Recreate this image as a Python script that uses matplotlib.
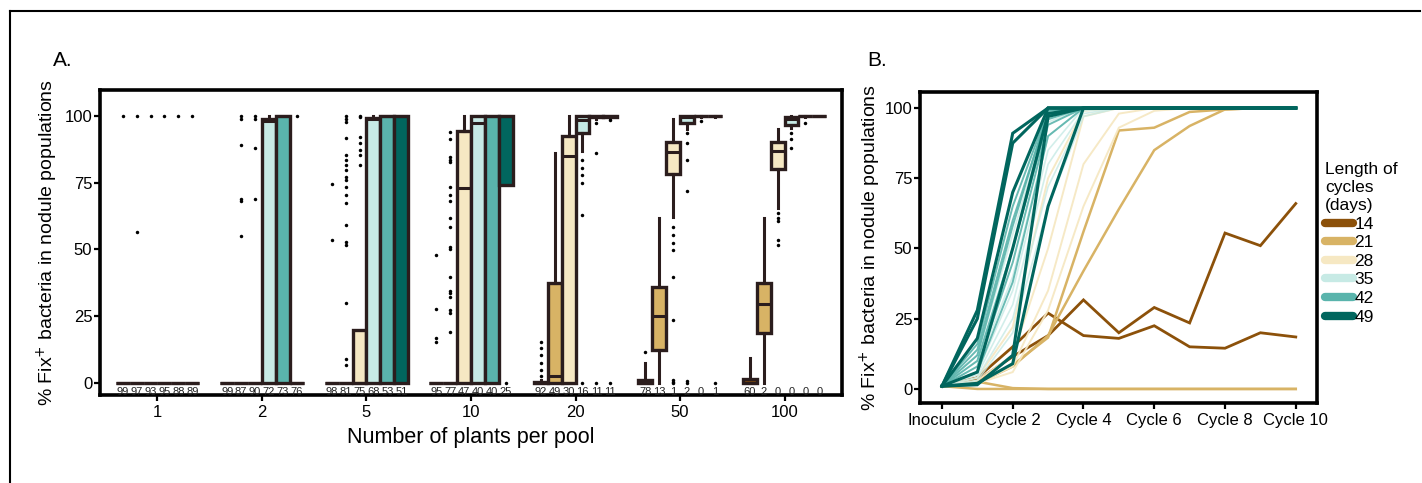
import matplotlib
matplotlib.use('Agg')
import matplotlib.pyplot as plt
from matplotlib.lines import Line2D

plt.rcParams['font.family'] = ['Liberation Sans', 'DejaVu Sans']

# ---------------- data ----------------
groups = ['1', '2', '5', '10', '20', '50', '100']
cycle_lengths = ['14', '21', '28', '35', '42', '49']
colors = ['#8c510a', '#d8b365', '#f6e8c3', '#c7eae5', '#5ab4ac', '#01665e']

counts = [
    [99, 97, 93, 95, 88, 89],
    [99, 87, 90, 72, 73, 76],
    [98, 81, 75, 68, 53, 51],
    [95, 77, 47, 40, 40, 25],
    [92, 49, 30, 16, 11, 11],
    [78, 13, 1, 2, 0, 1],
    [60, 2, 0, 0, 0, 0],
]
box_q1 = [
    [0, 0, 0, 0, 0, 0],
    [0, 0, 0, 0, 0, 0],
    [0, 0, 0, 0, 0, 0],
    [0, 0, 0, 0, 0, 74],
    [0, 0, 0, 93.6, 99.5, 99.5],
    [0, 12.4, 78.3, 97.4, 99.8, 99.8],
    [0, 18.6, 80, 96.5, 99.8, 100],
]
box_med = [
    [0, 0, 0, 0, 0, 0],
    [0, 0, 0, 98, 100, 0],
    [0, 0, 0, 99, 100, 100],
    [0, 0, 73, 97.5, 100, 100],
    [0, 2.5, 85, 98.5, 100, 100],
    [0, 25, 86.3, 99.5, 100, 100],
    [0, 29.6, 86.7, 99, 100, 100],
]
box_q3 = [
    [0, 0, 0, 0, 0, 0],
    [0, 0, 0, 99, 100, 0],
    [0, 0, 20, 99.4, 100, 100],
    [0, 0, 94.5, 100, 100, 100],
    [0.5, 37.3, 92.5, 100, 100, 100],
    [1, 35.8, 90.4, 100, 100, 100],
    [1.5, 37.3, 90.4, 99.5, 100, 100],
]
whisk_lo = [
    [0, 0, 0, 0, 0, 0],
    [0, 0, 0, 0, 0, 0],
    [0, 0, 0, 0, 0, 0],
    [0, 0, 0, 0, 0, 74],
    [0, 0, 0, 87, 99, 99],
    [0, 0, 62.3, 95, 99.5, 99.5],
    [0, 0, 65.4, 95.5, 99.5, 100],
]
whisk_hi = [
    [0, 0, 0, 0, 0, 0],
    [0, 0, 0, 100, 100, 0],
    [0, 0, 20, 100, 100, 100],
    [0, 0, 100, 100, 100, 100],
    [1, 86, 100, 100, 100, 100],
    [7.5, 61.7, 98.8, 100, 100, 100],
    [9.2, 61.7, 95, 100, 100, 100],
]
fliers = [
    [[100], [100, 56.7], [100], [100], [100], [100]],
    [[], [100, 99, 89, 69, 68, 55], [100, 99, 88, 69], [], [], [100]],
    [[74.4, 53.5],
     [100, 98.8, 97.9, 91.6, 85.4, 83.5, 81.6, 79.8, 77.3, 76, 73.5, 70.4,
      67.3, 59.2, 52.9, 51.7, 30, 8.9, 6.7],
     [100, 99.5, 92.2, 89.7, 87.3, 85.4, 81.6], [], [], []],
    [[48, 27.6, 16.7, 15.5],
     [94.1, 91.2, 84.5, 83.5, 82.9, 73.5, 70.4, 68.3, 61.7, 58.5, 51, 50.1,
      39.8, 34.6, 33.6, 32.1, 27.3, 26.1, 19.2],
     [], [], [], [0]],
    [[15.5, 13, 10.5, 7.6, 4.9, 2.5], [], [], [83.5, 80.5, 78, 75, 63, 0],
     [97.5, 86, 0], [98.5, 0]],
    [[11.7], [], [58.5, 55.4, 52.5, 49.7, 39.7, 23.7, 1.3, 0.5, 0],
     [93.6, 90, 83.5, 71.7, 0.8, 0], [98], [0]],
    [[], [], [63.5, 61.7, 60.5, 53.6, 51.7], [93.6, 91.5, 88], [97.5], []],
]

cycle_x = [0, 1, 2, 3, 4, 5, 6, 7, 8, 9, 10]
cycle_ticks = [0, 2, 4, 6, 8, 10]
cycle_ticklabels = ['Inoculum', 'Cycle 2', 'Cycle 4', 'Cycle 6', 'Cycle 8', 'Cycle 10']

lines_14 = [
    [1, 4, 15, 27, 19, 18, 22.5, 15, 14.5, 20, 18.5],
    [1, 3, 11.5, 19, 31.7, 20, 29, 23.5, 55.5, 51, 66],
]
lines_21 = [
    [1, 2.6, 0.3, 0, 0, 0, 0, 0, 0, 0, 0],
    [1, 0, 0, 0, 0, 0, 0, 0, 0, 0, 0],
    [1, 2, 8.5, 18.3, 56, 92, 93, 98.6, 99.5, 100, 100],
    [1, 2, 8, 19, 42, 64, 85, 93.6, 99.5, 100, 100],
]
lines_28 = [
    [1, 3, 12, 50, 97, 100, 100, 100, 100, 100, 100],
    [1, 2, 8, 35, 80, 98, 100, 100, 100, 100, 100],
    [1, 4, 22, 75, 99, 100, 100, 100, 100, 100, 100],
    [1, 2, 6, 28, 65, 93, 99, 100, 100, 100, 100],
]
lines_35 = [
    [1, 8, 40, 90, 100, 100, 100, 100, 100, 100, 100],
    [1, 5, 30, 80, 99, 100, 100, 100, 100, 100, 100],
    [1, 10, 50, 95, 100, 100, 100, 100, 100, 100, 100],
    [1, 3, 20, 65, 97, 100, 100, 100, 100, 100, 100],
    [1, 6, 35, 85, 100, 100, 100, 100, 100, 100, 100],
    [1, 12, 55, 97, 100, 100, 100, 100, 100, 100, 100],
    [1, 4, 25, 72, 98, 100, 100, 100, 100, 100, 100],
]
lines_42 = [
    [1, 14, 60, 98, 100, 100, 100, 100, 100, 100, 100],
    [1, 10, 50, 96, 100, 100, 100, 100, 100, 100, 100],
    [1, 8, 45, 94, 100, 100, 100, 100, 100, 100, 100],
    [1, 12, 58, 99, 100, 100, 100, 100, 100, 100, 100],
    [1, 6, 38, 90, 100, 100, 100, 100, 100, 100, 100],
    [1, 16, 65, 99, 100, 100, 100, 100, 100, 100, 100],
]
lines_49 = [
    [1, 28, 91, 100, 100, 100, 100, 100, 100, 100, 100],
    [1, 25, 87.5, 100, 100, 100, 100, 100, 100, 100, 100],
    [1, 18, 70, 100, 100, 100, 100, 100, 100, 100, 100],
    [1, 6, 50, 98, 100, 100, 100, 100, 100, 100, 100],
    [1, 2, 9, 65, 100, 100, 100, 100, 100, 100, 100],
    [1, 1.5, 12, 97, 100, 100, 100, 100, 100, 100, 100],
]
all_lines = [lines_14, lines_21, lines_28, lines_35, lines_42, lines_49]
line_widths = [2.0, 1.8, 1.4, 1.2, 1.4, 2.2]
line_alphas = [1.0, 1.0, 0.95, 0.8, 0.9, 1.0]

# ---------------- figure ----------------
W, H = 1422, 483
fig = plt.figure(figsize=(W / 100, H / 100), dpi=100)

edge = '#2b1d1d'
ylab = '% Fix$^{+}$ bacteria in nodule populations'

# ---- Panel A ----
axA = fig.add_axes([100 / W, 88 / H, 742 / W, 305 / H])
dodge = 0.8
bw = dodge / 6
stats, pos, fills = [], [], []
for gi in range(len(groups)):
    for ci in range(len(cycle_lengths)):
        stats.append(dict(med=box_med[gi][ci], q1=box_q1[gi][ci], q3=box_q3[gi][ci],
                          whislo=whisk_lo[gi][ci], whishi=whisk_hi[gi][ci],
                          fliers=fliers[gi][ci]))
        pos.append(gi + (ci - 2.5) * bw)
        fills.append(colors[ci])

bp = axA.bxp(stats, positions=pos, widths=bw, patch_artist=True, showcaps=False,
             showfliers=True, manage_ticks=False,
             boxprops=dict(edgecolor=edge, linewidth=2.4),
             medianprops=dict(color=edge, linewidth=2.2),
             whiskerprops=dict(color=edge, linewidth=2.2),
             flierprops=dict(marker='o', markersize=2.5, markerfacecolor='black',
                             markeredgecolor='none'))
for patch, fc in zip(bp['boxes'], fills):
    patch.set_facecolor(fc)

for gi in range(len(groups)):
    for ci in range(len(cycle_lengths)):
        axA.text(gi + (ci - 2.5) * bw, -3.4, str(counts[gi][ci]), ha='center',
                 va='center', fontsize=8, color='#222222')

axA.set_xlim(-0.55, 6.55)
axA.set_ylim(-4.5, 109.7)
axA.set_xticks(range(len(groups)))
axA.set_xticklabels(groups)
axA.set_yticks([0, 25, 50, 75, 100])
axA.set_xlabel('Number of plants per pool', fontsize=15.5, labelpad=5)
axA.set_ylabel(ylab, fontsize=14, labelpad=3)

# ---- Panel B ----
axB = fig.add_axes([920 / W, 80 / H, 397 / W, 311 / H])
for ci, series in enumerate(all_lines):
    for vals in series:
        axB.plot(cycle_x, vals, color=colors[ci], lw=line_widths[ci],
                 alpha=line_alphas[ci], solid_joinstyle='miter')
axB.set_xlim(-0.62, 10.6)
axB.set_ylim(-5, 105.7)
axB.set_xticks(cycle_ticks)
axB.set_xticklabels(cycle_ticklabels)
axB.set_yticks([0, 25, 50, 75, 100])
axB.set_ylabel(ylab, fontsize=14, labelpad=1)

handles = [Line2D([0], [0], color=c, lw=6, solid_capstyle='round') for c in colors]
leg = axB.legend(handles, cycle_lengths, title='Length of\ncycles\n(days)',
                 loc='upper left', bbox_to_anchor=(1325 / W, 1 - 162 / H),
                 bbox_transform=fig.transFigure, frameon=False, fontsize=12.5,
                 title_fontsize=12.5, handlelength=1.6, handletextpad=0.1,
                 labelspacing=0.2, borderpad=0, borderaxespad=0, alignment='left')
leg.get_title().set_linespacing(1.25)
leg.get_title().set_horizontalalignment('left')

for ax in (axA, axB):
    for s in ax.spines.values():
        s.set_linewidth(2.6)
        s.set_color('black')
    ax.tick_params(axis='both', which='major', direction='out', length=4, width=1.6,
                   labelsize=12, color='black', pad=1.5)
    ax.tick_params(axis='x', pad=3)

fig.text(53 / W, 1 - 61 / H, 'A.', fontsize=15, ha='left', va='center')
fig.text(867 / W, 1 - 61 / H, 'B.', fontsize=15, ha='left', va='center')

# outer frame
fig.add_artist(Line2D([10 / W, 1420 / W], [1 - 11 / H, 1 - 11 / H],
                      transform=fig.transFigure, color='black', lw=1.5))
fig.add_artist(Line2D([10 / W, 10 / W], [0, 1 - 11 / H],
                      transform=fig.transFigure, color='black', lw=1.5))

fig.savefig('out.png', dpi=100)
